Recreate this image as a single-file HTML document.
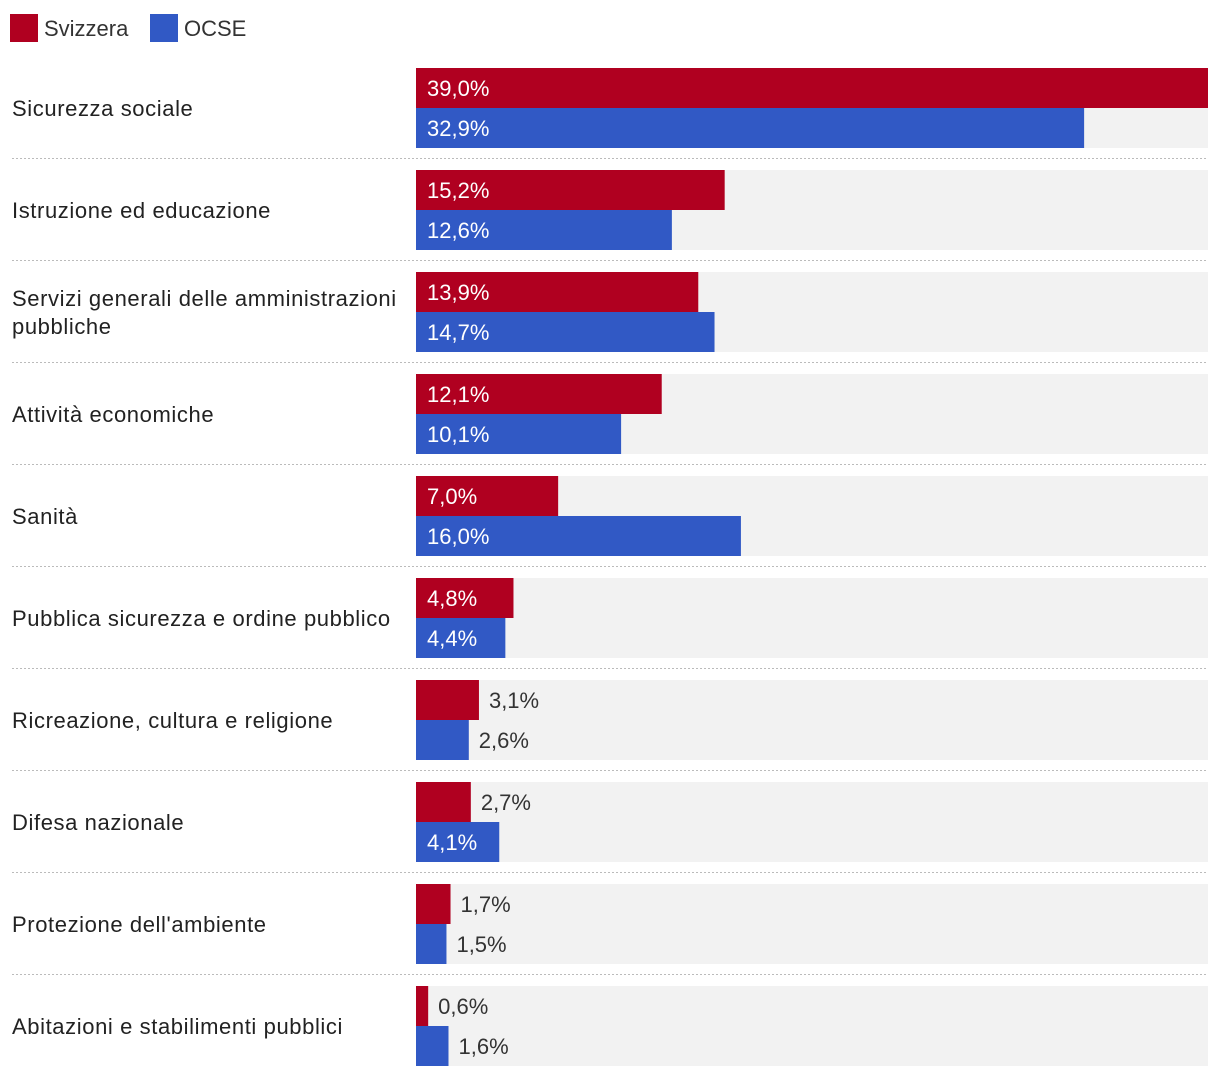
<!DOCTYPE html>
<html><head><meta charset="utf-8">
<style>
html,body{margin:0;padding:0;background:#fff;}
body{width:1220px;height:1078px;overflow:hidden;font-family:"Liberation Sans",sans-serif;}
svg text{font-family:"Liberation Sans",sans-serif;}
</style></head>
<body>
<svg id="chart" width="1220" height="1078" xmlns="http://www.w3.org/2000/svg">
  <g>
    <rect x="10" y="14" width="28" height="28" fill="#b00020"/>
    <text x="44" y="36" font-size="22" fill="#333">Svizzera</text>
    <rect x="150" y="14" width="28" height="28" fill="#3159c5"/>
    <text x="184" y="36" font-size="22" fill="#333">OCSE</text>
  </g>
  <g id="plot"></g>
</svg>
<script>
const categories = [["Sicurezza sociale"],["Istruzione ed educazione"],["Servizi generali delle amministrazioni","pubbliche"],["Attività economiche"],["Sanità"],["Pubblica sicurezza e ordine pubblico"],["Ricreazione, cultura e religione"],["Difesa nazionale"],["Protezione dell'ambiente"],["Abitazioni e stabilimenti pubblici"]];
const svizzera = [39.0,15.2,13.9,12.1,7.0,4.8,3.1,2.7,1.7,0.6];
const ocse = [32.9,12.6,14.7,10.1,16.0,4.4,2.6,4.1,1.5,1.6];
const xMax = 39.0;

const NS="http://www.w3.org/2000/svg";
const plot=document.getElementById('plot');
const x0=416, plotW=792, top0=68, groupH=102, barH=40;
const xScale=v=>v/xMax*plotW;
function mk(tag,attrs){const e=document.createElementNS(NS,tag);for(const k in attrs)e.setAttribute(k,attrs[k]);return e;}
function fmt(v){return v.toFixed(1).replace('.',',')+'%';}
categories.forEach((cat,i)=>{
  const gy=top0+i*groupH;
  const bg=mk('rect',{x:x0,y:gy,width:plotW,height:barH*2,fill:'#f2f2f2'});
  
  
  plot.appendChild(bg);
  const lbl=mk('text',{x:12,'font-size':22,fill:'#222','letter-spacing':'0.6'});
  
  
  const cy=gy+barH;
  cat.forEach((line,j)=>{
    const t=mk('tspan',{x:12,y:cy+8+(j-(cat.length-1)/2)*28});
    t.textContent=line;lbl.appendChild(t);
  });
  plot.appendChild(lbl);
  [[svizzera[i],'#b00020','bar-svizzera'],[ocse[i],'#3159c5','bar-ocse']].forEach(([v,c,n],k)=>{
    const w=Math.max(xScale(v),12);
    const y=gy+k*barH;
    const r=mk('rect',{x:x0,y:y,width:w,height:barH,fill:c});
    
    
    plot.appendChild(r);
    const inside=w>75;
    const t=mk('text',{x:inside?x0+11:x0+w+10,y:y+28,'font-size':22,fill:inside?'#fff':'#333'});
    
    
    t.textContent=fmt(v);
    plot.appendChild(t);
  });
  if(i<categories.length-1){
    const sl=mk('line',{x1:12,x2:1208,y1:gy+90.5,y2:gy+90.5,stroke:'#bbb','stroke-width':1,'stroke-dasharray':'2,2'});
    
    
    plot.appendChild(sl);
  }
});
</script>
</body></html>
